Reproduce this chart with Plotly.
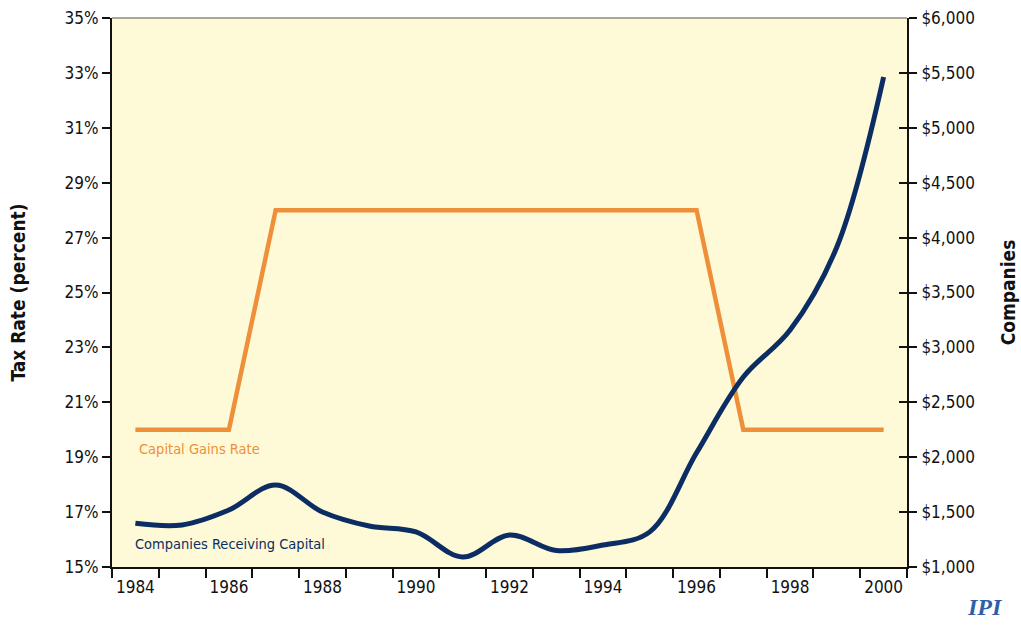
import plotly.graph_objects as go

years = list(range(1984, 2001))
gains_rate = [20, 20, 20, 28, 28, 28, 28, 28, 28, 28, 28, 28, 28, 20, 20, 20, 20]
companies = [1398, 1383, 1519, 1747, 1501, 1373, 1319, 1091, 1291, 1150, 1200, 1320,
             2040, 2730, 3158, 3914, 5462]
left_ticks = list(range(15, 36, 2))
left_labels = [f"{v}%" for v in left_ticks]
right_ticks = list(range(1000, 6001, 500))
right_labels = [f"${v:,}" for v in right_ticks]
x_labels = list(range(1984, 2001, 2))

ORANGE = "#ED9039"
NAVY = "#0B2D63"
FONT = "DejaVu Sans Condensed, Lato, sans-serif"

fig = go.Figure()
fig.add_trace(go.Scatter(x=years, y=gains_rate, mode="lines",
                         line=dict(color=ORANGE, width=4.5), yaxis="y",
                         name="Capital Gains Rate", showlegend=False))
fig.add_trace(go.Scatter(x=years, y=companies, mode="lines",
                         line=dict(color=NAVY, width=5, shape="spline", smoothing=1.0),
                         yaxis="y2", name="Companies Receiving Capital", showlegend=False))

fig.update_layout(
    width=1021, height=630,
    margin=dict(l=112, r=114, t=18, b=63),
    paper_bgcolor="white",
    plot_bgcolor="#FEF9D6",
    font=dict(family=FONT, size=17, color="#111111"),
    xaxis=dict(
        range=[1983.5, 2000.5], tickvals=x_labels, ticks="", showgrid=False,
        zeroline=False, showline=True, linecolor="#111111", linewidth=2,
        ticklabelstandoff=4, automargin=False,
        minor=dict(tick0=1983.5, dtick=1, ticks="outside", ticklen=9,
                   tickcolor="#111111", tickwidth=1.5, showgrid=False),
    ),
    yaxis=dict(
        range=[15, 35], tickvals=left_ticks, ticktext=left_labels, ticks="outside",
        ticklen=8, tickcolor="#111111", tickwidth=1.5, showgrid=False, zeroline=False,
        showline=True, linecolor="#111111", linewidth=2, mirror="ticks",
        automargin=False, ticklabelstandoff=0,
        title=dict(text="<b>Tax Rate (percent)</b>", standoff=34,
                   font=dict(size=19)),
    ),
    yaxis2=dict(
        range=[1000, 6000], tickvals=right_ticks, ticktext=right_labels,
        overlaying="y", side="right", ticks="inside", ticklen=8, tickcolor="#111111",
        tickwidth=1.5, showgrid=False, zeroline=False, showline=True,
        linecolor="#111111", linewidth=2, ticklabelstandoff=9, automargin=False,
        title=dict(text="<b>Companies</b>", standoff=28, font=dict(size=19)),
    ),
    shapes=[dict(type="line", xref="paper", yref="paper", x0=0, x1=1, y0=1, y1=1,
                 line=dict(color="#555555", width=1))],
    annotations=[
        dict(text="Capital Gains Rate", x=1984.04, y=19.3, xref="x", yref="y",
             xanchor="left", yanchor="middle", showarrow=False,
             font=dict(family=FONT, size=14.5, color=ORANGE)),
        dict(text="Companies Receiving Capital", x=1983.95, y=15.84, xref="x", yref="y",
             xanchor="left", yanchor="middle", showarrow=False,
             font=dict(family=FONT, size=14.5, color=NAVY)),
        dict(text="<b><i>IPI</i></b>", x=1.098, y=-0.073, xref="paper", yref="paper",
             xanchor="center", yanchor="middle", showarrow=False,
             font=dict(family="Liberation Serif, serif", size=24, color="#2E5FAB")),
    ],
)

fig.write_html("out.html", config={"displayModeBar": False},
               post_script="document.body.style.margin='0';document.body.style.overflow='hidden';")
